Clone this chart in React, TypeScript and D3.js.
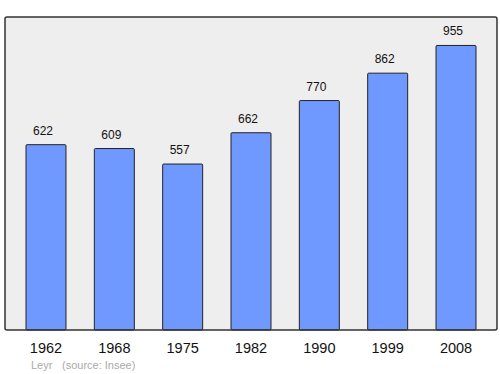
import React from "react";
import * as d3 from "d3";

const years = ["1962", "1968", "1975", "1982", "1990", "1999", "2008"];
const population = [622, 609, 557, 662, 770, 862, 955];
const townName = "Leyr";
const sourceText = "(source: Insee)";

export default function App() {
  const W = 500, H = 374;
  const left = 5, right = 497, top = 17, bottom = 330;
  const x = d3.scaleBand<string>().domain(years).range([26, 476]).paddingInner(0.415).paddingOuter(0);
  const y = d3.scaleLinear().domain([0, d3.max(population)! * 1.1]).range([bottom, top]);
  return (
    <svg width={W} height={H} style={{ position: "absolute", left: 0, top: 0 }} fontFamily="Liberation Sans, Arial, sans-serif">
      <rect x={left} y={top} width={right - left} height={bottom - top} fill="#eeeeee" stroke="none" rx={2} />
      {population.map((v, i) => (
        <g key={years[i]}>
          <rect x={x(years[i])} y={y(v)} width={x.bandwidth()} height={bottom - y(v)} fill="#7099ff" stroke="#222" strokeWidth={1} rx={1} />
          <text x={x(years[i])! + x.bandwidth() / 2 - 3} y={y(v) - 10} textAnchor="middle" fontSize={12} fill="#111">{v}</text>
          <text x={x(years[i])! + x.bandwidth() / 2} y={353} textAnchor="middle" fontSize={14.5} fill="#111">{years[i]}</text>
        </g>
      ))}
      <rect x={left} y={top} width={right - left} height={bottom - top} fill="none" stroke="#333" strokeWidth={1.5} rx={2} />
      <text x={31} y={369} fontSize={11} fill="#aaa">{townName}</text>
      <text x={62} y={369} fontSize={11} fill="#aaa">{sourceText}</text>
    </svg>
  );
}
